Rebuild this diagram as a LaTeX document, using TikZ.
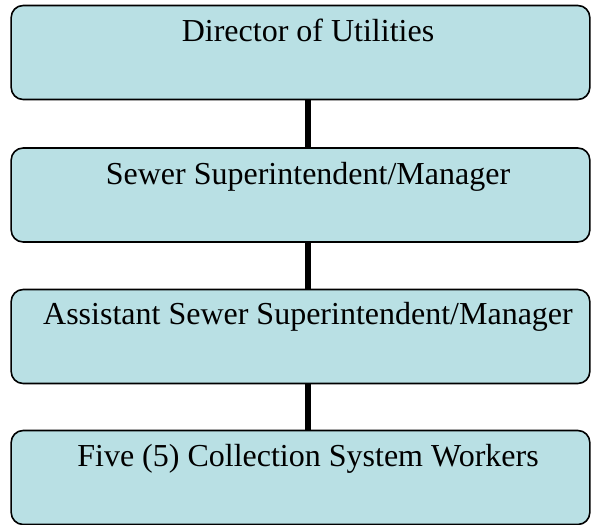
\documentclass[tikz,border=0pt]{standalone}
\usepackage{fontspec}
\setmainfont{Liberation Serif}
\newfontfamily\tnr{Liberation Serif}
\definecolor{boxfill}{HTML}{B9E0E4}
\begin{document}
\begin{tikzpicture}[x=0.75pt,y=-0.75pt,
  orgbox/.style={draw=black, line width=1.2pt, fill=boxfill, rounded corners=9pt,
    minimum width=434pt, minimum height=70.5pt, inner sep=0pt},
  orgtext/.style={anchor=base, inner sep=0pt, font=\tnr\fontsize{24}{28}\selectfont},
  link/.style={draw=black, line width=3.8pt}]
\useasboundingbox (0,0) rectangle (594,525);
\node[orgbox] (b1) at (300.5,52.5) {};
\node[orgbox] (b2) at (300.5,195) {};
\node[orgbox] (b3) at (300.5,336.5) {};
\node[orgbox] (b4) at (300.5,477.5) {};
\node[orgtext] (t1) at (308,41) {Director of Utilities};
\node[orgtext] (t2) at (308,184) {Sewer Superintendent/Manager};
\node[orgtext] (t3) at (308,324) {Assistant Sewer Superintendent/Manager};
\node[orgtext] (t4) at (308,466) {Five (5) Collection System Workers};
\draw[link] (b1.south -| t1) -- (b2.north -| t1);
\draw[link] (b2.south -| t1) -- (b3.north -| t1);
\draw[link] (b3.south -| t1) -- (b4.north -| t1);
\end{tikzpicture}
\end{document}
